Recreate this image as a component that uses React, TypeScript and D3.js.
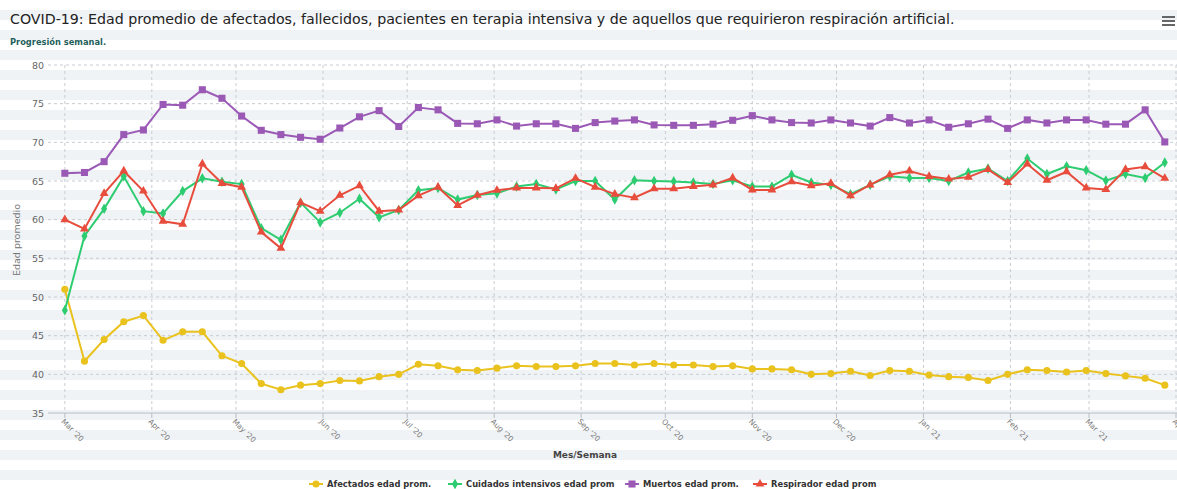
import React from "react";
import * as d3 from "d3";

// ---- data (weekly, starting 1 Mar 2020)
const startWeek = new Date(2020, 2, 1);
const weekCount = 57;

const afectados = [
  51.0, 41.7, 44.5, 46.8, 47.6, 44.4, 45.5, 45.5, 42.4, 41.4,
  38.8, 38.0, 38.6, 38.8, 39.2, 39.15, 39.7, 40.0, 41.3, 41.1,
  40.6, 40.5, 40.8, 41.1, 41.0, 41.0, 41.1, 41.4, 41.4, 41.2,
  41.4, 41.2, 41.2, 41.0, 41.1, 40.7, 40.7, 40.6, 40.0, 40.1,
  40.4, 39.85, 40.5, 40.4, 39.9, 39.7, 39.6, 39.2, 40.0, 40.6,
  40.5, 40.3, 40.5, 40.1, 39.8, 39.5, 38.6
];
const cuidados = [
  48.3, 57.9, 61.4, 65.6, 61.1, 60.8, 63.7, 65.35, 64.9, 64.6,
  58.9, 57.4, 62.2, 59.65, 60.9, 62.7, 60.3, 61.25, 63.8, 64.1,
  62.6, 63.2, 63.4, 64.3, 64.6, 63.9, 65.0, 65.0, 62.6, 65.1,
  65.0, 64.95, 64.8, 64.6, 65.1, 64.3, 64.3, 65.8, 64.8, 64.5,
  63.3, 64.5, 65.6, 65.4, 65.4, 65.0, 66.1, 66.6, 65.0, 67.9,
  65.9, 66.9, 66.4, 65.05, 65.9, 65.4, 67.4
];
const muertos = [
  66.0, 66.1, 67.5, 71.0, 71.6, 74.9, 74.8, 76.8, 75.7, 73.4,
  71.55, 71.0, 70.65, 70.4, 71.85, 73.3, 74.1, 72.05, 74.5, 74.2,
  72.45, 72.4, 72.9, 72.1, 72.4, 72.4, 71.8, 72.55, 72.75, 72.9,
  72.25, 72.2, 72.2, 72.35, 72.85, 73.45, 72.9, 72.55, 72.5, 72.9,
  72.5, 72.1, 73.2, 72.5, 72.9, 71.95, 72.4, 73.0, 71.8, 72.9,
  72.5, 72.9, 72.9, 72.35, 72.35, 74.2, 70.05
];
const respirador = [
  60.0, 58.8, 63.4, 66.3, 63.7, 59.8, 59.4, 67.2, 64.7, 64.2,
  58.4, 56.3, 62.2, 61.1, 63.15, 64.4, 61.1, 61.25, 63.1, 64.2,
  61.85, 63.15, 63.8, 64.1, 64.1, 64.05, 65.35, 64.2, 63.3, 62.85,
  64.0, 64.0, 64.3, 64.5, 65.4, 63.85, 63.85, 64.9, 64.4, 64.7,
  63.1, 64.5, 65.8, 66.3, 65.6, 65.25, 65.5, 66.5, 64.8, 67.2,
  65.1, 66.2, 64.1, 63.9, 66.5, 66.85, 65.35
];

const seriesNames = [
  "Afectados edad prom.",
  "Cuidados intensivos edad prom",
  "Muertos edad prom.",
  "Respirador edad prom",
];
const seriesColors = ["#e9c21e", "#2ecc71", "#9b59b6", "#e74c3c"];
const seriesSymbols = ["circle", "diamond", "square", "triangle"];
const yTicks = [35, 40, 45, 50, 55, 60, 65, 70, 75, 80];

const W = 1177;
const H = 489;
const fontFamily = "'DejaVu Sans', Verdana, sans-serif";

const marker = (kind: string, size: number) => {
  const type =
    kind === "circle" ? d3.symbolCircle
    : kind === "diamond" ? d3.symbolDiamond
    : kind === "square" ? d3.symbolSquare
    : d3.symbolTriangle;
  return d3.symbol().type(type).size(size)() || "";
};
const markerSize: Record<string, number> = { circle: 40, diamond: 32, square: 50, triangle: 34 };

export default function App() {
  const weeks = d3.range(weekCount).map((i) => d3.timeDay.offset(startWeek, i * 7));
  const series = [afectados, cuidados, muertos, respirador];

  // ------------ scales
  const x = d3.scaleTime()
    .domain([new Date(2020, 1, 24), new Date(2021, 3, 1)])
    .range([48, 1176]);
  const y = d3.scaleLinear().domain([35, 80]).range([413, 65]);

  const months = d3.timeMonth.range(new Date(2020, 2, 1), new Date(2021, 3, 2));
  const fmt = d3.timeFormat("%b '%y");

  const line = d3.line<number>()
    .x((_, i) => x(weeks[i]))
    .y((d) => y(d));

  // background stripes
  const stripes = d3.range(0, H, 20);

  // legend layout (symbol centres)
  const legendX = [316, 455, 632, 760];

  return (
    <svg width={W} height={H} style={{ position: "absolute", left: 0, top: 0, fontFamily }}>
      <rect width={W} height={H} fill="#ffffff" />
      {stripes.map((s) => (
        <rect key={s} x={0} y={s + 10} width={W} height={10} fill="#f0f3f6" />
      ))}

      {/* title */}
      <text x={10} y={24} fontSize={14.2} fill="#222">
        COVID-19: Edad promedio de afectados, fallecidos, pacientes en terapia intensiva y de aquellos que requirieron respiración artificial.
      </text>
      <text x={10} y={45} fontSize={8.3} fontWeight="bold" fill="#1f5f5b">
        Progresión semanal.
      </text>
      {/* menu icon */}
      {[0, 4, 8].map((o) => (
        <rect key={o} x={1162} y={16 + o} width={13} height={2} fill="#666" />
      ))}

      {/* horizontal grid */}
      {yTicks.map((t) => (
        <g key={t}>
          <line
            x1={48} x2={W} y1={y(t)} y2={y(t)}
            stroke={t === 35 ? "#b8bec6" : "#c8ccd2"}
            strokeDasharray={t === 35 ? undefined : "3,3"}
            strokeWidth={1}
          />
          <text x={44} y={y(t) + 3.5} fontSize={9.5} fill="#666" textAnchor="end">{t}</text>
        </g>
      ))}

      {/* vertical grid + x labels */}
      {months.map((m) => (
        <g key={+m}>
          <line x1={x(m)} x2={x(m)} y1={65} y2={413} stroke="#c8ccd2" strokeDasharray="3,3" />
          <line x1={x(m)} x2={x(m)} y1={413} y2={418} stroke="#b8bec6" />
          <text
            transform={`translate(${x(m) - 4},${422}) rotate(45)`}
            fontSize={7.5}
            fill="#777"
          >
            {fmt(m)}
          </text>
        </g>
      ))}

      <text x={20} y={240} fontSize={9.5} fill="#777" textAnchor="middle" transform="rotate(-90 20 240)">
        Edad promedio
      </text>
      <text x={585} y={458} fontSize={9} fontWeight="bold" fill="#444" textAnchor="middle">
        Mes/Semana
      </text>

      {/* series */}
      {series.map((s, si) => (
        <g key={si}>
          <path d={line(s) || ""} fill="none" stroke={seriesColors[si]} strokeWidth={2} />
          {s.map((v, i) => (
            <path
              key={i}
              d={marker(seriesSymbols[si], markerSize[seriesSymbols[si]])}
              transform={`translate(${x(weeks[i])},${y(v)})`}
              fill={seriesColors[si]}
            />
          ))}
        </g>
      ))}

      {/* legend */}
      {seriesNames.map((n, i) => (
        <g key={n} transform={`translate(${legendX[i]},${484})`}>
          <line x1={-7} x2={7} y1={0} y2={0} stroke={seriesColors[i]} strokeWidth={2} />
          <path d={marker(seriesSymbols[i], markerSize[seriesSymbols[i]])} fill={seriesColors[i]} />
          <text x={11} y={3.2} fontSize={8.4} fontWeight="bold" fill="#333">{n}</text>
        </g>
      ))}
    </svg>
  );
}
